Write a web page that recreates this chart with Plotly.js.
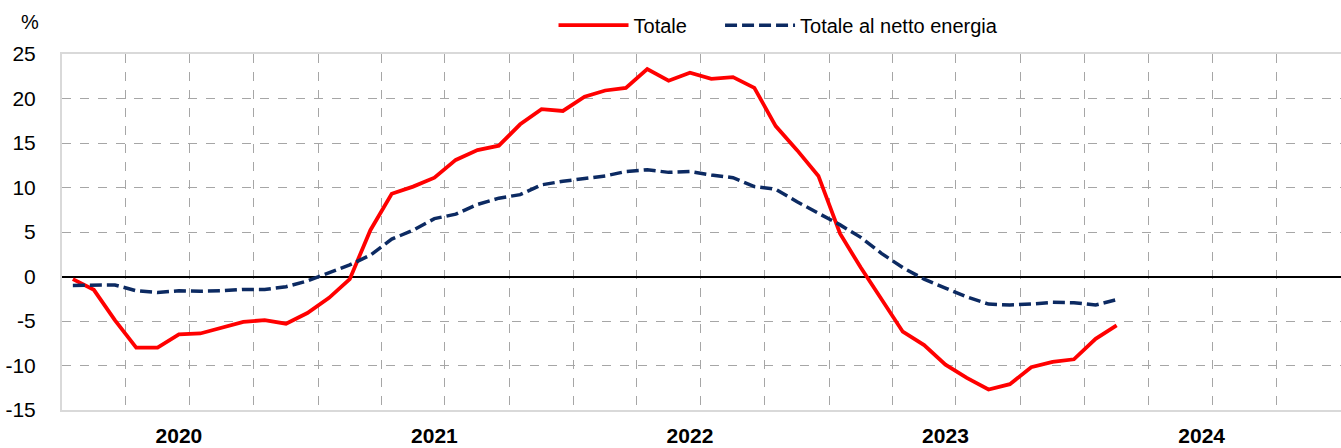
<!DOCTYPE html>
<html>
<head>
<meta charset="utf-8">
<script src="https://cdn.plot.ly/plotly-3.0.1.min.js"></script>
<style>html,body{margin:0;padding:0;background:#fff}#chart{width:1341px;height:448px}</style>
</head>
<body>
<div id="chart"></div>
<script>
// Year labels on the x axis
const years = ['2020', '2021', '2022', '2023', '2024'];
// Y axis ticks and their labels (hyphen minus as in the original)
const yTickVals = [-15, -10, -5, 0, 5, 10, 15, 20, 25];
const yTickText = ['-15', '-10', '-5', '0', '5', '10', '15', '20', '25'];
// Monthly values, Jan 2020 onward (%)
const totale = [-0.3, -1.5, -4.9, -8.0, -8.0, -6.5, -6.4, -5.7, -5.1, -4.9, -5.3, -4.1,
  -2.4, -0.3, 5.2, 9.3, 10.1, 11.1, 13.1, 14.2, 14.7, 17.1, 18.8, 18.6,
  20.2, 20.9, 21.2, 23.3, 22.0, 22.9, 22.2, 22.4, 21.2, 16.9, 14.2, 11.3,
  4.8, 1.0, -2.6, -6.2, -7.7, -9.9, -11.4, -12.7, -12.1, -10.2, -9.6, -9.3,
  -7.0, -5.5];
const nettoEnergia = [-1.0, -0.95, -0.95, -1.6, -1.8, -1.6, -1.65, -1.6, -1.45, -1.45, -1.15, -0.5,
  0.4, 1.3, 2.4, 4.2, 5.2, 6.5, 7.0, 8.1, 8.8, 9.2, 10.3, 10.7,
  11.0, 11.3, 11.8, 12.0, 11.7, 11.8, 11.4, 11.1, 10.1, 9.8, 8.4, 7.1,
  5.8, 4.4, 2.6, 1.0, -0.3, -1.3, -2.3, -3.1, -3.2, -3.1, -2.9, -2.95,
  -3.2, -2.6];
const seriesNames = ['Totale', 'Totale al netto energia'];

const months = totale.map((_, i) =>
  (2020 + Math.floor(i / 12)) + '-' + String(i % 12 + 1).padStart(2, '0') + '-01');

const FONT = '"Liberation Sans", Arial, sans-serif';

const traces = [
  {
    x: months, y: totale, name: seriesNames[0], type: 'scatter', mode: 'lines',
    xperiod: 'M1', xperiodalignment: 'middle', legend: 'legend',
    line: {color: '#ff0000', width: 3.8}
  },
  {
    x: months, y: nettoEnergia, name: seriesNames[1], type: 'scatter', mode: 'lines',
    xperiod: 'M1', xperiodalignment: 'middle', legend: 'legend2',
    line: {color: '#0c2a62', width: 3.5, dash: '12px,5px'}
  }
];

const legendBase = {
  orientation: 'h', xanchor: 'left', y: 1.081, yanchor: 'middle',
  font: {family: FONT, size: 20, color: '#000'}, itemwidth: 70,
  bgcolor: 'rgba(0,0,0,0)'
};

const layout = {
  width: 1341, height: 448,
  margin: {l: 62, r: 0, t: 54, b: 38},
  paper_bgcolor: '#fff', plot_bgcolor: '#fff',
  font: {family: FONT, size: 20, color: '#000'},
  showlegend: true,
  legend: Object.assign({}, legendBase, {x: 0.3843}),
  legend2: Object.assign({}, legendBase, {x: 0.5145}),
  xaxis: {
    type: 'date', range: ['2020-01-01', '2025-01-01'],
    tickmode: 'array', tickvals: years.map(y => y + '-06-16'), ticktext: years,
    tickfont: {family: FONT, size: 21, color: '#000', weight: 'bold'},
    ticks: '', showgrid: false, zeroline: false,
    showline: true, linecolor: '#d9d9d9', linewidth: 2, mirror: true,
    ticklabelstandoff: 6,
    minor: {tickmode: 'linear', tick0: '2020-01-01', dtick: 'M3', showgrid: true,
            gridcolor: '#a6a6a6', griddash: 'dash', gridwidth: 1, ticks: ''}
  },
  yaxis: {
    range: [-15, 25], tickmode: 'array', tickvals: yTickVals, ticktext: yTickText,
    tickfont: {family: FONT, size: 21, color: '#000'},
    ticks: '', showgrid: true, gridcolor: '#a6a6a6', griddash: 'dash', gridwidth: 1,
    zeroline: true, zerolinecolor: '#000', zerolinewidth: 2,
    showline: true, linecolor: '#d9d9d9', linewidth: 2, mirror: true,
    ticklabelstandoff: 20
  },
  annotations: [{
    text: '%', xref: 'paper', yref: 'paper', x: -0.025, y: 1.09,
    xanchor: 'center', yanchor: 'middle', showarrow: false,
    font: {family: FONT, size: 20, color: '#000'}
  }]
};

Plotly.newPlot('chart', traces, layout, {displayModeBar: false, staticPlot: true});
</script>
</body>
</html>
